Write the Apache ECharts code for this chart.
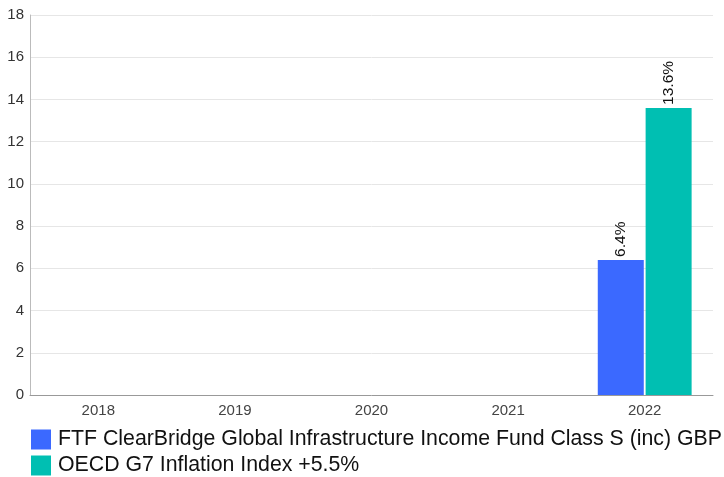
<!DOCTYPE html>
<html><head><meta charset="utf-8">
<script src="https://cdn.jsdelivr.net/npm/echarts@6/dist/echarts.min.js"></script>
<style>html,body{margin:0;padding:0;background:#fff}#c{width:724px;height:477px}</style>
</head><body><div id="c"></div>
<script>
const categories = ['2018','2019','2020','2021','2022'];
const fundName = 'FTF ClearBridge Global Infrastructure Income Fund Class S (inc) GBP';
const indexName = 'OECD G7 Inflation Index +5.5%';
const fundValues = [null, null, null, null, 6.4];
const indexValues = [null, null, null, null, 13.6];
const yTicks = {min: 0, max: 18, interval: 2};

const FONT = 'Liberation Sans, Arial, sans-serif';
const chart = echarts.init(document.getElementById('c'), null, {renderer: 'canvas'});
const labelOpt = {show: true, position: 'top', rotate: 90, align: 'left', verticalAlign: 'middle', distance: 3,
  color: '#111', fontSize: 15.5, fontFamily: FONT,
  formatter: p => p.value == null ? '' : p.value.toFixed(1) + '%'};
const legendBase = {
  orient: 'horizontal', left: 31, itemWidth: 20, itemHeight: 20, icon: 'rect', itemGap: 0,
  textStyle: {fontSize: 21.3, color: '#111', fontFamily: FONT, padding: [0, 0, 4, 2]}
};
chart.setOption({
  animation: false,
  textStyle: {fontFamily: FONT},
  grid: {left: 30, right: 11, top: 15, bottom: 82},
  legend: [
    Object.assign({}, legendBase, {top: 427, padding: [2, 0, 2, 0], data: [fundName]}),
    Object.assign({}, legendBase, {top: 453, padding: [2, 0, 2, 0], data: [indexName]})
  ],
  xAxis: {
    type: 'category', data: categories,
    axisLine: {lineStyle: {color: '#999'}}, axisTick: {show: false},
    axisLabel: {color: '#444', fontSize: 15, margin: 8}
  },
  yAxis: {
    type: 'value', min: yTicks.min, max: yTicks.max, interval: yTicks.interval,
    axisLine: {show: true, lineStyle: {color: '#bbb'}}, axisTick: {show: false},
    splitLine: {lineStyle: {color: '#e6e6e6'}},
    axisLabel: {color: '#333', fontSize: 15, margin: 6}
  },
  series: [
    {name: fundName, type: 'bar', data: fundValues, barWidth: 46, barGap: '4%',
     itemStyle: {color: '#3b69ff'}, label: labelOpt},
    {name: indexName, type: 'bar', data: indexValues, barWidth: 46,
     itemStyle: {color: '#00bfb2'}, label: labelOpt}
  ]
});
</script></body></html>
